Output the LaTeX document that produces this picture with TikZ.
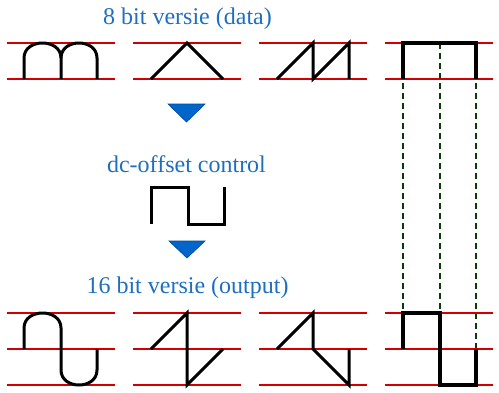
\documentclass[tikz,border=0pt]{standalone}
\usepackage{fontspec}
\setmainfont{Liberation Serif}
\definecolor{lblue}{HTML}{1F6FC0}
\definecolor{tblue}{HTML}{0066CC}
\definecolor{lred}{HTML}{D00000}
\definecolor{dgreen}{HTML}{0A3A0A}
\begin{document}
\begin{tikzpicture}[x=1bp,y=-1bp,
  refline/.style={draw=lred,line width=1.1bp},
  wave/.style={draw=black,line width=3bp,line join=miter},
  sqwave/.style={draw=black,line width=3.8bp,line join=miter},
  guide/.style={draw=dgreen,line width=1.1bp,dash pattern=on 6bp off 4bp},
  tri/.style={fill=tblue,draw=tblue!70!black,line width=0.6bp},
  label/.style={text=lblue,anchor=base,inner sep=0pt,font=\fontsize{24bp}{28bp}\selectfont}]
\useasboundingbox (0,0) rectangle (499,392);
% labels
\node[label] (t1) at (187.5,24) {8 bit versie (data)};
\node[label] (t2) at (186.5,172) {dc-offset control};
\node[label] (t3) at (187.5,293) {16 bit versie (output)};
% arrows (triangles)
\path[tri] (168,104) -- (205,104) -- (186.5,122) -- cycle;
\path[tri] (169,241) -- (205,241) -- (187,258) -- cycle;
% guide dashed lines
\foreach \x in {403,440,476} \draw[guide] (\x,43) -- (\x,349);
% reference lines top
\foreach \a/\b in {7/115,133/241,259/367,385/493} {
  \draw[refline] (\a,43) -- (\b,43);
  \draw[refline] (\a,79) -- (\b,79);
}
% reference lines bottom
\foreach \a/\b in {7/115,133/241,259/367,385/493} {
  \draw[refline] (\a,313) -- (\b,313);
  \draw[refline] (\a,349) -- (\b,349);
  \draw[refline] (\a,385) -- (\b,385);
}
% top waveforms
\draw[wave] (24,79) -- (24,58) .. controls (24,38) and (61,38) .. (61,58) -- (61,79);
\draw[wave] (61,58) .. controls (61,38) and (97,38) .. (97,58) -- (97,79);
\draw[wave] (151,79) -- (187,43) -- (223,79);
\draw[wave] (277,79) -- (313,43) -- (313,79) -- (349,43) -- (349,79);
\draw[sqwave] (403,79) -- (403,43) -- (476,43) -- (476,79);
% middle square wave
\draw[wave] (151,224) -- (151,187) -- (188,187) -- (188,224) -- (224,224) -- (224,187);
% bottom waveforms
\draw[wave] (24,349) -- (24,328) .. controls (24,308) and (61,308) .. (61,328) -- (61,370) .. controls (61,390) and (97,390) .. (97,370) -- (97,349);
\draw[wave] (151,349) -- (187,313) -- (187,385) -- (223,349);
\draw[wave] (277,349) -- (313,313) -- (313,349) -- (349,385) -- (349,349);
\draw[sqwave] (403,349) -- (403,313) -- (440,313) -- (440,385) -- (476,385) -- (476,349);
\end{tikzpicture}
\end{document}
